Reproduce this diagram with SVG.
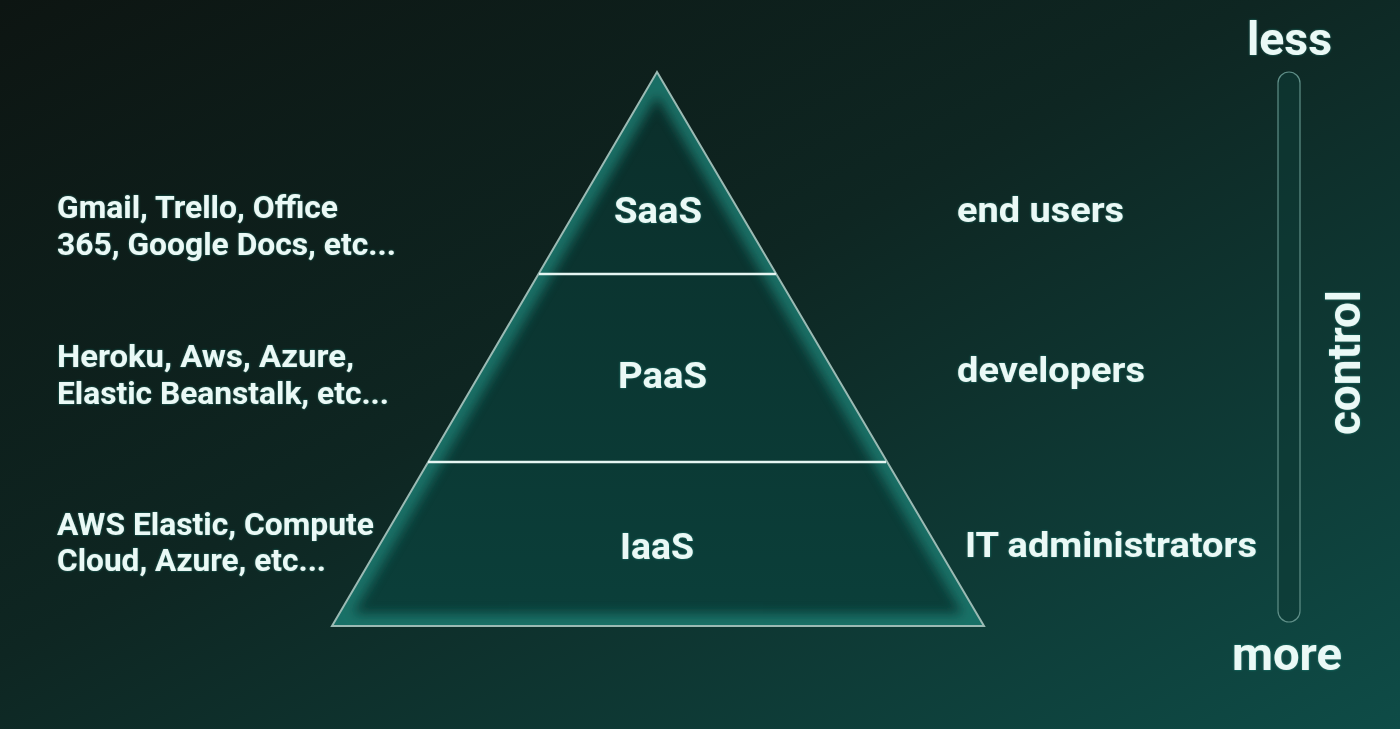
<svg xmlns="http://www.w3.org/2000/svg" width="1400" height="729" viewBox="0 0 1400 729">
<defs>
<linearGradient id="bg" x1="0" y1="0" x2="1" y2="1" gradientUnits="objectBoundingBox">
<stop offset="0" stop-color="#0d1512"/>
<stop offset="0.45" stop-color="#0e2622"/>
<stop offset="1" stop-color="#0e4c47"/>
</linearGradient>
<linearGradient id="pyr" x1="0" y1="0" x2="0" y2="1">
<stop offset="0" stop-color="#0b2e2a"/>
<stop offset="1" stop-color="#0b3f3a"/>
</linearGradient>
<filter id="glow" x="-10%" y="-10%" width="120%" height="120%">
<feGaussianBlur stdDeviation="6"/>
</filter>
<filter id="tglow" x="-5%" y="-20%" width="110%" height="140%">
<feGaussianBlur in="SourceAlpha" stdDeviation="1.2" result="b"/>
<feFlood flood-color="#2bb3a3" flood-opacity="0.6"/>
<feComposite in2="b" operator="in" result="g"/>
<feMerge><feMergeNode in="g"/><feMergeNode in="SourceGraphic"/></feMerge>
</filter>
<clipPath id="pclip"><polygon points="657,72 332,626 984,626"/></clipPath>
</defs>
<style>
text{font-family:Roboto,"Liberation Sans",sans-serif;font-weight:bold;fill:#eaf9f6;}
.lbl{font-size:31px;}
.usr{font-size:35px;}
.tier{font-size:37px;}
.big{font-size:47px;}
.div{stroke:#e6f5f2;stroke-width:2.5;}
</style>
<rect width="1400" height="729" fill="url(#bg)"/>
<g id="pyramid">
<polygon points="657,72 332,626 984,626" fill="url(#pyr)"/>
<g clip-path="url(#pclip)">
<polygon points="657,72 332,626 984,626" fill="none" stroke="#1f7a70" stroke-width="24" filter="url(#glow)" opacity="0.85"/>
</g>
<polygon points="657,72 332,626 984,626" fill="none" stroke="#9bbab4" stroke-width="2"/>
</g>
<g id="connectors">
<line class="div" x1="539" y1="274" x2="776" y2="274"/>
<line class="div" x1="428" y1="462" x2="886" y2="462"/>
</g>
<g id="saas"><text class="tier" x="614" y="223" textLength="88" lengthAdjust="spacingAndGlyphs" filter="url(#tglow)">SaaS</text></g>
<g id="paas"><text class="tier" x="618" y="388" textLength="89" lengthAdjust="spacingAndGlyphs" filter="url(#tglow)">PaaS</text></g>
<g id="iaas"><text class="tier" x="620" y="559" textLength="74" lengthAdjust="spacingAndGlyphs" filter="url(#tglow)">IaaS</text></g>
<g id="saas-examples" filter="url(#tglow)">
<text class="lbl" x="57" y="218" textLength="281" lengthAdjust="spacingAndGlyphs">Gmail, Trello, Office</text>
<text class="lbl" x="57" y="255" textLength="339" lengthAdjust="spacingAndGlyphs">365, Google Docs, etc...</text>
</g>
<g id="paas-examples" filter="url(#tglow)">
<text class="lbl" x="57" y="367" textLength="297" lengthAdjust="spacingAndGlyphs">Heroku, Aws, Azure,</text>
<text class="lbl" x="57" y="404" textLength="332" lengthAdjust="spacingAndGlyphs">Elastic Beanstalk, etc...</text>
</g>
<g id="iaas-examples" filter="url(#tglow)">
<text class="lbl" x="57" y="535" textLength="317" lengthAdjust="spacingAndGlyphs">AWS Elastic, Compute</text>
<text class="lbl" x="57" y="571" textLength="269" lengthAdjust="spacingAndGlyphs">Cloud, Azure, etc...</text>
</g>
<g id="saas-users"><text class="usr" x="957" y="222" textLength="167" lengthAdjust="spacingAndGlyphs" filter="url(#tglow)">end users</text></g>
<g id="paas-users"><text class="usr" x="957" y="382" textLength="188" lengthAdjust="spacingAndGlyphs" filter="url(#tglow)">developers</text></g>
<g id="iaas-users"><text class="usr" x="965" y="557" textLength="292" lengthAdjust="spacingAndGlyphs" filter="url(#tglow)">IT administrators</text></g>
<g id="control-scale">
<rect x="1278" y="72" width="22" height="550" rx="11" fill="#0d3a35" fill-opacity="0.6" stroke="#5f8f88" stroke-width="1.2"/>
<text class="big" x="1247" y="55" textLength="85" lengthAdjust="spacingAndGlyphs" filter="url(#tglow)">less</text>
<text class="big" x="1232" y="670" textLength="110" lengthAdjust="spacingAndGlyphs" filter="url(#tglow)">more</text>
<text class="big" transform="translate(1360,435) rotate(-90)" textLength="145" lengthAdjust="spacingAndGlyphs" filter="url(#tglow)">control</text>
</g>
</svg>
